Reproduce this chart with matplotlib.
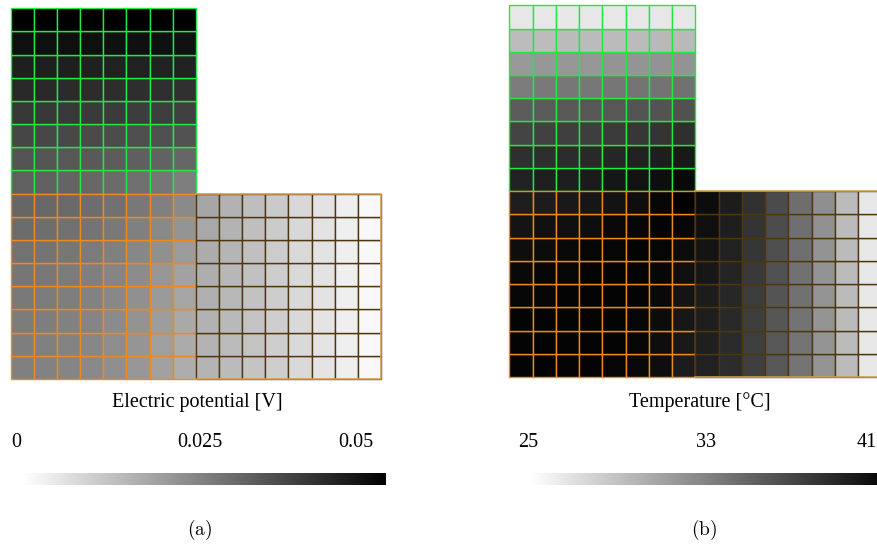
import numpy as np
import matplotlib
matplotlib.use("Agg")
import matplotlib.pyplot as plt
from matplotlib.colors import Normalize
from matplotlib.cm import ScalarMappable

plt.rcParams['mathtext.fontset'] = 'cm'

# Electric potential per cell [mV]; rows top to bottom, columns left to right
potential_top = [
    [50.0, 50.0, 50.0, 50.0, 50.0, 50.0, 50.0, 50.0],
    [46.9, 46.9, 46.9, 46.9, 46.7, 46.7, 46.7, 46.5],
    [43.9, 43.9, 43.9, 43.7, 43.5, 43.5, 43.3, 43.3],
    [41.8, 41.8, 41.6, 41.4, 41.2, 41.0, 40.8, 40.6],
    [39.0, 39.0, 38.8, 38.6, 38.4, 38.0, 37.8, 37.5],
    [36.3, 36.1, 35.9, 35.5, 35.1, 34.7, 34.3, 33.9],
    [33.5, 33.3, 32.9, 32.5, 32.0, 31.4, 30.8, 30.0],
    [31.2, 31.0, 30.4, 29.8, 29.0, 28.0, 26.9, 25.3],
]
potential_left = [
    [30.0, 29.6, 29.2, 28.6, 27.8, 26.5, 24.9, 22.9],
    [28.8, 28.4, 27.8, 27.3, 26.3, 24.9, 23.1, 21.0],
    [27.6, 27.3, 26.7, 25.9, 24.9, 23.5, 21.8, 19.4],
    [26.9, 26.5, 25.9, 25.1, 23.9, 22.5, 20.6, 18.2],
    [26.3, 25.9, 25.3, 24.5, 23.3, 21.8, 19.8, 17.5],
    [25.7, 25.3, 24.7, 23.9, 22.7, 21.2, 19.2, 16.9],
    [25.3, 24.9, 24.3, 23.5, 22.4, 20.8, 18.8, 16.5],
    [24.9, 24.5, 23.9, 23.1, 22.0, 20.4, 18.4, 16.1],
]
potential_right = [
    [17.5, 15.1, 12.7, 10.4, 7.8, 5.5, 3.3, 1.4],
    [17.1, 14.9, 12.5, 10.2, 7.8, 5.5, 3.3, 1.4],
    [16.3, 14.5, 12.4, 10.0, 7.6, 5.5, 3.3, 1.4],
    [15.9, 14.1, 12.2, 9.8, 7.6, 5.5, 3.3, 1.4],
    [15.5, 13.9, 12.0, 9.8, 7.6, 5.5, 3.3, 1.4],
    [15.1, 13.7, 11.8, 9.6, 7.6, 5.3, 3.3, 1.4],
    [14.9, 13.5, 11.8, 9.6, 7.5, 5.3, 3.3, 1.4],
    [14.7, 13.3, 11.6, 9.6, 7.5, 5.3, 3.3, 1.4],
]

# Temperature per cell [°C]; rows top to bottom, columns left to right
temperature_top = [
    [26.5, 26.5, 26.5, 26.5, 26.5, 26.5, 26.5, 26.5],
    [29.2, 29.2, 29.3, 29.3, 29.3, 29.3, 29.4, 29.4],
    [31.4, 31.5, 31.5, 31.6, 31.7, 31.7, 31.8, 31.8],
    [33.3, 33.4, 33.5, 33.5, 33.6, 33.7, 33.8, 33.9],
    [35.2, 35.3, 35.4, 35.5, 35.5, 35.7, 35.8, 35.9],
    [36.7, 36.9, 37.0, 37.1, 37.3, 37.5, 37.7, 38.0],
    [38.0, 38.1, 38.2, 38.4, 38.6, 38.9, 39.1, 39.4],
    [38.9, 39.0, 39.1, 39.3, 39.6, 39.8, 40.1, 40.4],
]
temperature_left = [
    [39.1, 39.2, 39.4, 39.6, 39.8, 40.1, 40.5, 40.9],
    [39.7, 39.9, 40.0, 40.1, 40.4, 40.6, 40.7, 40.5],
    [40.1, 40.2, 40.4, 40.5, 40.6, 40.7, 40.6, 40.2],
    [40.4, 40.5, 40.6, 40.7, 40.7, 40.7, 40.5, 40.0],
    [40.6, 40.6, 40.7, 40.7, 40.7, 40.7, 40.4, 39.7],
    [40.7, 40.7, 40.7, 40.7, 40.7, 40.6, 40.2, 39.5],
    [40.7, 40.7, 40.7, 40.7, 40.7, 40.5, 40.1, 39.4],
    [40.7, 40.7, 40.7, 40.7, 40.6, 40.4, 40.1, 39.2],
]
temperature_right = [
    [40.2, 39.2, 37.9, 36.3, 34.1, 32.0, 29.3, 26.5],
    [40.0, 39.1, 37.7, 36.2, 34.0, 31.9, 29.3, 26.5],
    [39.7, 38.9, 37.6, 36.0, 34.0, 31.8, 29.3, 26.5],
    [39.5, 38.7, 37.4, 35.9, 33.9, 31.8, 29.3, 26.5],
    [39.2, 38.5, 37.2, 35.7, 33.9, 31.7, 29.3, 26.5],
    [39.1, 38.4, 37.1, 35.6, 33.8, 31.7, 29.3, 26.5],
    [39.0, 38.3, 37.0, 35.5, 33.7, 31.7, 29.3, 26.5],
    [38.9, 38.2, 37.0, 35.5, 33.7, 31.7, 29.3, 26.5],
]

potential_range = (0.0, 0.05)
potential_ticks = ["0", "0.025", "0.05"]
potential_label = "Electric potential [V]"
temperature_range = (25.0, 41.0)
temperature_ticks = ["25", "33", "41"]
temperature_label = "Temperature [°C]"

GREEN = '#22e842'
ORANGE = '#f0891c'
BROWN = '#4e3612'
TAN = '#dca24e'
SERIF = ['Liberation Serif', 'DejaVu Serif']

W, H = 878, 544
fig = plt.figure(figsize=(W / 100, H / 100), dpi=100)


def px_axes(x0, y0, x1, y1):
    return fig.add_axes([x0 / W, 1 - y1 / H, (x1 - x0) / W, (y1 - y0) / H])


def draw_mesh(ax, top, left, right, norm, scale=1.0):
    blocks = [(top, 0, 8, GREEN), (left, 0, 0, ORANGE), (right, 8, 0, BROWN)]
    for vals, x0, y0, ec in blocks:
        c = np.flipud(np.asarray(vals, float)) * scale
        xe = np.arange(x0, x0 + 9)
        ye = np.arange(y0, y0 + 9)
        m = ax.pcolormesh(xe, ye, c, cmap='gray_r', norm=norm,
                          edgecolors=ec, linewidth=1.0, antialiased=True)
        m.set_clip_on(False)
    ax.plot([8, 16, 16, 8], [8, 8, 0, 0], color=TAN, lw=1.1, clip_on=False)
    ax.set_xlim(0, 16)
    ax.set_ylim(0, 16)
    ax.axis('off')


def draw_colorbar(x0, x1, norm):
    cax = px_axes(x0, 472.7, x1, 485)
    cb = fig.colorbar(ScalarMappable(norm=norm, cmap='gray_r'), cax=cax,
                      orientation='horizontal')
    cb.outline.set_visible(False)
    cb.set_ticks([])


def px_text(x, y, s, **kw):
    fig.text(x / W, 1 - y / H, s, **kw)


# (a) electric potential
norm_a = Normalize(*potential_range)
ax_a = px_axes(10.7, 8.3, 381.0, 379.0)
draw_mesh(ax_a, potential_top, potential_left, potential_right, norm_a, scale=1e-3)
draw_colorbar(23, 386, norm_a)
px_text(197, 407, potential_label, ha='center', va='baseline', fontsize=14.5, family=SERIF)
for x, s in zip([16, 200, 356], potential_ticks):
    px_text(x, 447, s, ha='center', va='baseline', fontsize=14.5, family=SERIF)
px_text(200, 530, r'$\mathrm{(a)}$', ha='center', va='center', fontsize=14)

# (b) temperature
norm_b = Normalize(*temperature_range)
ax_b = px_axes(509.3, 5.3, 881.3, 377.0)
draw_mesh(ax_b, temperature_top, temperature_left, temperature_right, norm_b)
draw_colorbar(530, 892, norm_b)
px_text(700, 407, temperature_label, ha='center', va='baseline', fontsize=14.5, family=SERIF)
for x, s in zip([528, 706, 867], temperature_ticks):
    px_text(x, 447, s, ha='center', va='baseline', fontsize=14.5, family=SERIF)
px_text(704, 530, r'$\mathrm{(b)}$', ha='center', va='center', fontsize=14)

fig.savefig('out.png', dpi=100)
